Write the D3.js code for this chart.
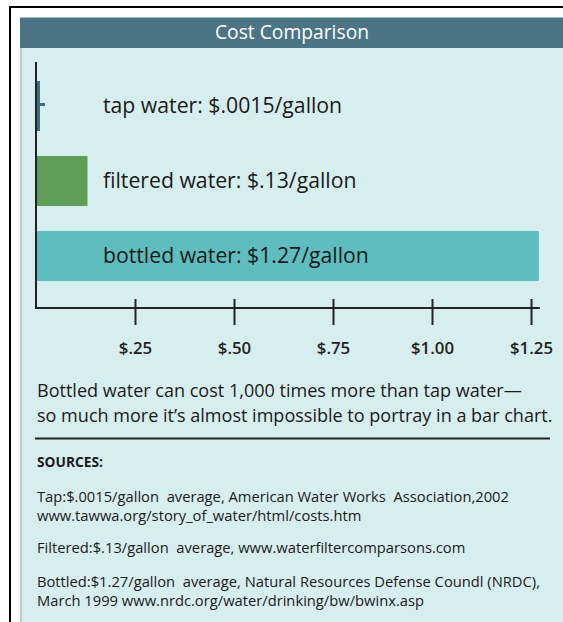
<!DOCTYPE html>
<html><head><meta charset="utf-8">
<script src="https://cdn.jsdelivr.net/npm/d3@7"></script>
<style>
html,body{margin:0;padding:0;background:#fff;}
svg{display:block;}
</style></head>
<body>
<script>
const title = "Cost Comparison";
const categories = ["tap water", "filtered water", "bottled water"];
const values = [0.0015, 0.13, 1.27];
const valueLabels = ["$.0015", "$.13", "$1.27"];
const barColors = ["#3c6d80", "#5f9e58", "#5fbdbf"];
const tickValues = [0.25, 0.5, 0.75, 1.0, 1.25];
const tickLabels = ["$.25", "$.50", "$.75", "$1.00", "$1.25"];
const noteLines = [
  "Bottled water can cost 1,000 times more than tap water\u2014",
  "so much more it\u2019s almost impossible to portray in a bar chart."
];
const sourcesHeading = "SOURCES:";
const sourceLines = [
  "Tap:$.0015/gallon  average, American Water Works  Association,2002",
  "www.tawwa.org/story_of_water/html/costs.htm",
  "Filtered:$.13/gallon  average, www.waterfiltercomparsons.com",
  "Bottled:$1.27/gallon  average, Natural Resources Defense Coundl (NRDC),",
  "March 1999 www.nrdc.org/water/drinking/bw/bwinx.asp"
];
const sourceY = [498, 517, 549, 583, 602];

const W = 563, H = 622;
const font = "'Open Sans', 'DejaVu Sans', sans-serif";
const svg = d3.select("body").append("svg").attr("width", W).attr("height", H);

// scale a group's font-size so that its reference element reaches a target width
function fit(sel, refNode, target, base) {
  const w = refNode.getComputedTextLength();
  const s = w > 0 ? base * target / w : base;
  sel.attr("font-size", s.toFixed(2));
}

// frame
svg.append("rect").attr("x", 0).attr("y", 0).attr("width", W).attr("height", H).attr("fill", "#fff");
svg.append("rect").attr("x", 9).attr("y", 6).attr("width", W - 9).attr("height", 2).attr("fill", "#000");
svg.append("rect").attr("x", 9).attr("y", 6).attr("width", 2).attr("height", H - 6).attr("fill", "#000");
// panel
svg.append("rect").attr("x", 20).attr("y", 17).attr("width", W - 20).attr("height", H - 17).attr("fill", "#d7eeef");
svg.append("rect").attr("x", 20).attr("y", 17).attr("width", 2).attr("height", H - 17).attr("fill", "#b9cdd1");
svg.append("rect").attr("x", 20).attr("y", 17).attr("width", W - 20).attr("height", 31).attr("fill", "#4b7585");
svg.append("rect").attr("x", 20).attr("y", 17).attr("width", W - 20).attr("height", 1).attr("fill", "#a9bcc2");
const tt = svg.append("text").attr("x", 292).attr("y", 39).attr("text-anchor", "middle")
  .attr("font-family", font).attr("font-size", 19).attr("fill", "#fff").text(title);
fit(tt, tt.node(), 154, 19);

// scales
const x = d3.scaleLinear().domain([0, 1.25]).range([36, 531]);
const y = d3.scaleBand().domain(categories).range([68.5, 293.5]).paddingInner(1/3).paddingOuter(1/6);
const axisY = 308;

// bars
svg.selectAll("rect.bar").data(categories).join("rect").attr("class", "bar")
  .attr("x", x(0))
  .attr("y", d => y(d))
  .attr("width", (d, i) => Math.max(x(values[i]) - x(0), 4))
  .attr("height", y.bandwidth())
  .attr("fill", (d, i) => barColors[i]);
// small notch on the tiny tap bar (as in the reference)
svg.append("rect").attr("x", x(0)).attr("y", y(categories[0]) + y.bandwidth() / 2 - 3)
  .attr("width", 9).attr("height", 3).attr("fill", barColors[0]);

// bar labels
const labs = svg.selectAll("text.lab").data(categories).join("text").attr("class", "lab")
  .attr("x", 103)
  .attr("y", d => y(d) + y.bandwidth() / 2 + 7)
  .attr("font-family", font).attr("font-size", 21).attr("fill", "#1a1a1a")
  .text((d, i) => d + ": " + valueLabels[i] + "/gallon");
fit(labs, labs.nodes()[2], 266, 21);

// axes
svg.append("line").attr("x1", x(0)).attr("x2", x(0)).attr("y1", 62).attr("y2", axisY + 1)
  .attr("stroke", "#222").attr("stroke-width", 2);
const gx = svg.append("g").attr("transform", `translate(0,${axisY})`)
  .call(d3.axisBottom(x).tickValues(tickValues).tickSize(17).tickPadding(17)
    .tickFormat((d, i) => tickLabels[i]));
gx.select(".domain").remove();
gx.selectAll(".tick line").attr("y1", -9).attr("stroke", "#222").attr("stroke-width", 2);
const tks = gx.selectAll(".tick text").attr("font-family", font).attr("font-size", 15)
  .attr("font-weight", 600).attr("fill", "#222");
fit(tks, tks.nodes()[4], 43, 15);
svg.append("line").attr("x1", x(0) - 1).attr("x2", x(d3.max(values)) + 1).attr("y1", axisY).attr("y2", axisY)
  .attr("stroke", "#222").attr("stroke-width", 2);

// note
const notes = svg.selectAll("text.note").data(noteLines).join("text").attr("class", "note")
  .attr("x", 37).attr("y", (d, i) => 397 + i * 25)
  .attr("font-family", font).attr("font-size", 16.6).attr("fill", "#1a1a1a").text(d => d);
fit(notes, notes.nodes()[0], 485, 16.6);

svg.append("line").attr("x1", 35).attr("x2", 550).attr("y1", 438.5).attr("y2", 438.5)
  .attr("stroke", "#222").attr("stroke-width", 2);

const sh = svg.append("text").attr("x", 37).attr("y", 467).attr("font-family", font).attr("font-weight", "bold")
  .attr("font-size", 13).attr("fill", "#1a1a1a").text(sourcesHeading);
fit(sh, sh.node(), 66, 13);

const srcs = svg.selectAll("text.src").data(sourceLines).join("text").attr("class", "src")
  .attr("x", 37).attr("y", (d, i) => sourceY[i] + 4)
  .attr("font-family", font).attr("font-size", 13.8).attr("fill", "#1a1a1a")
  .style("white-space", "pre").attr("xml:space", "preserve").text(d => d);
fit(srcs, srcs.nodes()[0], 472, 13.8);
</script>
</body></html>
